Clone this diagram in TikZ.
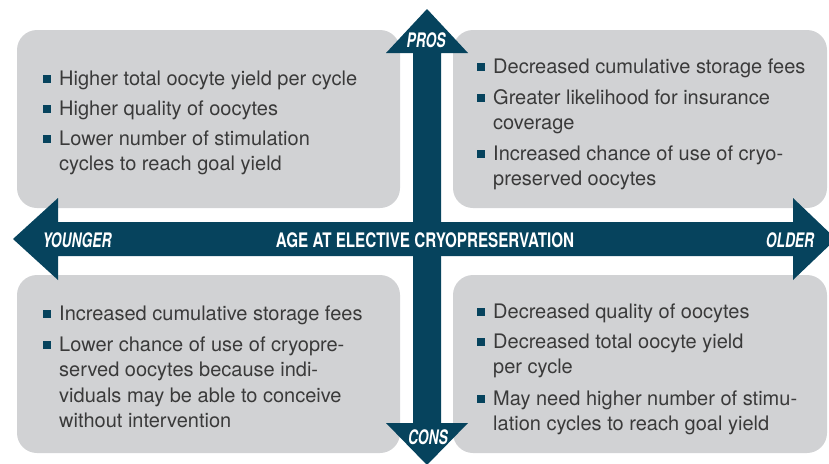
\documentclass[tikz,border=0pt]{standalone}
\usepackage{fontspec}
\setmainfont{TeX Gyre Heros}
\usepackage{graphicx}
\usepackage{tikz}
\definecolor{box_gray}{RGB}{209,210,212}
\definecolor{arrow_teal}{RGB}{6,67,93}
\definecolor{text_gray}{RGB}{58,58,58}
\newcommand{\sidelbl}[1]{\scalebox{0.69}[1]{\bfseries\itshape #1}}
\newcommand{\axislbl}[1]{\scalebox{0.76}[1]{\bfseries #1}}

\begin{document}
\begin{tikzpicture}[x=1pt,y=-1pt]
    \tikzstyle{panel}=[fill=box_gray, rounded corners=20pt]
    \tikzstyle{bigarrow}=[fill=arrow_teal]
    \tikzstyle{item}=[anchor=base west, inner sep=0pt, align=left, text=text_gray, font=\fontsize{20}{25.5}\selectfont]
    \tikzstyle{bsq}=[fill=arrow_teal, inner sep=0pt, minimum size=8pt]
    \tikzstyle{lbl}=[text=white, inner sep=0pt, font=\fontsize{20}{24}\selectfont]
    \useasboundingbox (0,0) rectangle (829,463);

    \fill[panel] (17,30) rectangle (400,208);
    \fill[panel] (453,30) rectangle (827,208);
    \fill[panel] (17,275) rectangle (400,453);
    \fill[panel] (453,275) rectangle (827,453);

    \fill[bigarrow] (13,239) -- (58,198) -- (58,222) -- (793,222) -- (793,198) -- (836,239)
      -- (793,280) -- (793,256) -- (58,256) -- (58,280) -- cycle;
    \fill[bigarrow] (427,9) -- (468,53) -- (441,53) -- (441,423) -- (468,423) -- (427,465)
      -- (386,423) -- (413,423) -- (413,53) -- (386,53) -- cycle;

    \node[lbl] (pros)  at (426,40)  {\sidelbl{PROS}};
    \node[lbl] (cons)  at (428,437) {\sidelbl{CONS}};
    \node[lbl] (young) at (77,240)  {\sidelbl{YOUNGER}};
    \node[lbl] (old)   at (790,240) {\sidelbl{OLDER}};
    \node[lbl] (age)   at (425,240) {\axislbl{AGE AT ELECTIVE CRYOPRESERVATION}};

    % base anchor sits on the last line
    \node[item] (tl1) at (59,85)    {Higher total oocyte yield per cycle};
    \node[item] (tl2) at (59,115)   {Higher quality of oocytes};
    \node[item] (tl3) at (59,170.5) {Lower number of stimulation\\cycles to reach goal yield};
    \node[bsq] (tl1b) at (47,79)  {};
    \node[bsq] (tl2b) at (47,109) {};
    \node[bsq] (tl3b) at (47,139) {};

    \node[item] (tr1) at (493,73)    {Decreased cumulative storage fees};
    \node[item] (tr2) at (493,129.5) {Greater likelihood for insurance\\coverage};
    \node[item] (tr3) at (493,185.5) {Increased chance of use of cryo-\\preserved oocytes};
    \node[bsq] (tr1b) at (481,67)  {};
    \node[bsq] (tr2b) at (481,98)  {};
    \node[bsq] (tr3b) at (481,154) {};

    \node[item] (bl1) at (59,320)   {Increased cumulative storage fees};
    \node[item] (bl2) at (59,427.5) {Lower chance of use of cryopre-\\served oocytes because indi-\\viduals may be able to conceive\\without intervention};
    \node[bsq] (bl1b) at (47,314) {};
    \node[bsq] (bl2b) at (47,345) {};

    \node[item] (br1) at (493,318)   {Decreased quality of oocytes};
    \node[item] (br2) at (493,373.5) {Decreased total oocyte yield\\per cycle};
    \node[item] (br3) at (493,430.5) {May need higher number of stimu-\\lation cycles to reach goal yield};
    \node[bsq] (br1b) at (481,312) {};
    \node[bsq] (br2b) at (481,342) {};
    \node[bsq] (br3b) at (481,399) {};
\end{tikzpicture}
\end{document}
